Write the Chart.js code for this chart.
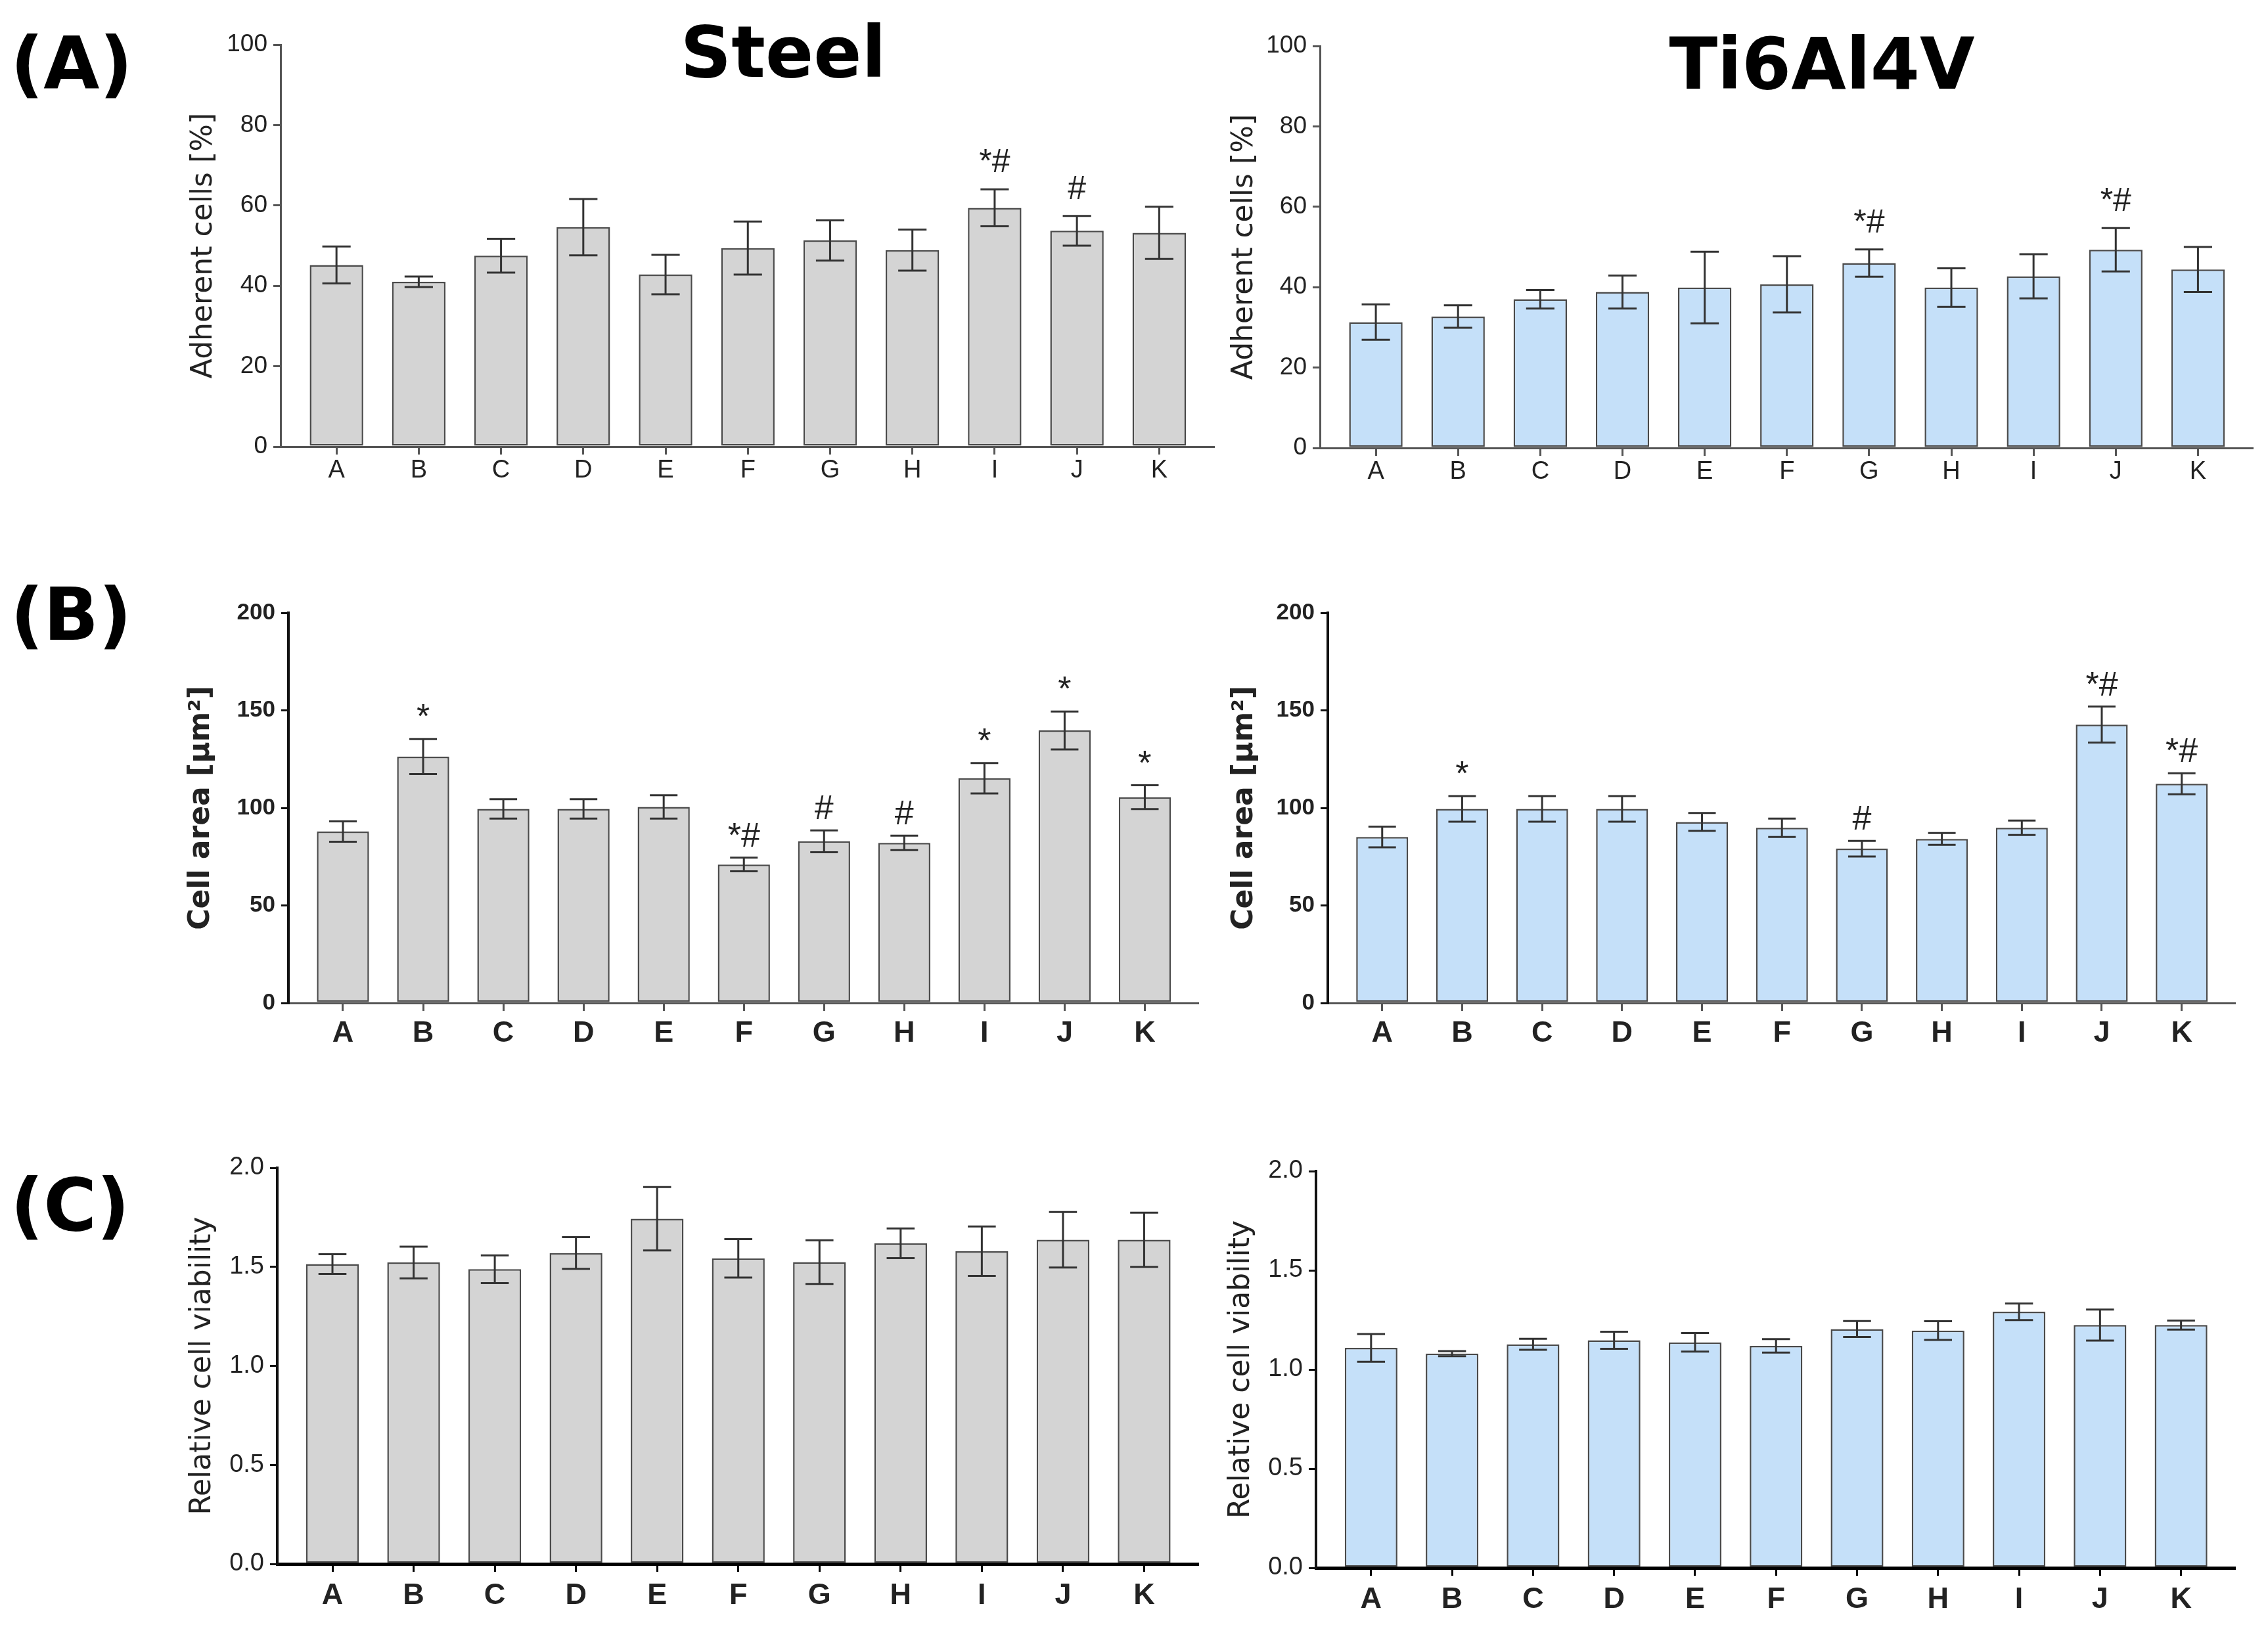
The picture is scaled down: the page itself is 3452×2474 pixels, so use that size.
<!DOCTYPE html>
<html>
<head>
<meta charset="utf-8">
<script src="https://cdn.jsdelivr.net/npm/chart.js@4.4.1/dist/chart.umd.min.js"></script>
<style>
  body { margin: 0; background: #fff; width: 3452px; height: 2474px; position: relative; overflow: hidden; }
  canvas { position: absolute; }
  .lbl { position: absolute; font-family: 'DejaVu Sans', sans-serif; font-weight: bold; color: #000; line-height: 1; white-space: nowrap; }
  .ttl { width: 1000px; text-align: center; font-size: 108px; }
</style>
</head>
<body>
<div class="lbl" style="left:16px;top:42px;font-size:110px">(A)</div>
<div class="lbl" style="left:16px;top:881px;font-size:110px">(B)</div>
<div class="lbl" style="left:16px;top:1780px;font-size:110px">(C)</div>
<div class="lbl ttl" style="left:692px;top:26px">Steel</div>
<div class="lbl ttl" style="left:2273px;top:44px">Ti6Al4V</div>

<script>
// groups on the x axis
const groups = ['A', 'B', 'C', 'D', 'E', 'F', 'G', 'H', 'I', 'J', 'K'];

// (A) adherent cells [%]
const adhSteel    = [45.2, 41.0, 47.5, 54.6, 42.8, 49.4, 51.3, 48.9, 59.4, 53.7, 53.2];
const adhSteelErr = [4.6, 1.3, 4.2, 7.0, 4.9, 6.6, 5.0, 5.1, 4.6, 3.7, 6.5];
const adhSteelSig = ['', '', '', '', '', '', '', '', '*#', '#', ''];
const adhTi       = [31.3, 32.7, 37.0, 38.8, 39.9, 40.7, 46.0, 39.9, 42.7, 49.3, 44.4];
const adhTiErr    = [4.4, 2.8, 2.3, 4.1, 8.9, 7.0, 3.4, 4.8, 5.5, 5.4, 5.6];
const adhTiSig    = ['', '', '', '', '', '', '*#', '', '', '*#', ''];

// (B) cell area [µm²]
const areaSteel    = [87.9, 126.3, 99.5, 99.5, 100.5, 71.0, 82.9, 82.1, 115.2, 139.7, 105.5];
const areaSteelErr = [5.2, 9.0, 5.0, 5.0, 6.0, 3.5, 5.6, 3.7, 7.8, 9.7, 6.1];
const areaSteelSig = ['', '*', '', '', '', '*#', '#', '#', '*', '*', '*'];
const areaTi       = [85.1, 99.5, 99.5, 99.5, 92.8, 89.8, 79.1, 84.1, 89.8, 142.7, 112.4];
const areaTiErr    = [5.3, 6.6, 6.6, 6.6, 4.6, 4.7, 4.0, 3.0, 3.7, 9.2, 5.4];
const areaTiSig    = ['', '*', '', '', '', '', '#', '', '', '*#', '*#'];

// (C) relative cell viability
const viaSteel    = [1.514, 1.522, 1.488, 1.570, 1.743, 1.543, 1.524, 1.619, 1.579, 1.637, 1.637];
const viaSteelErr = [0.05, 0.08, 0.07, 0.08, 0.16, 0.097, 0.11, 0.075, 0.125, 0.14, 0.137];
const viaTi       = [1.109, 1.080, 1.127, 1.147, 1.137, 1.119, 1.204, 1.196, 1.291, 1.224, 1.224];
const viaTiErr    = [0.07, 0.013, 0.028, 0.043, 0.047, 0.034, 0.04, 0.047, 0.042, 0.078, 0.023];
const noSig       = ['', '', '', '', '', '', '', '', '', '', ''];

const STEEL = '#d4d4d4';
const TI = '#c5e0f9';
const GAP_L = 0.18, GAP_R = 0.16;   // empty space at both ends of the x axis (in bars)
const Y_BOX = 330, X_BOX = 130, PAD_TOP = 50, PAD_RIGHT = 20;
const tickFont = "'Liberation Sans', Arial, sans-serif";

// error bars + significance marks
const errorBars = {
  id: 'errorBars',
  afterDatasetsDraw(chart, args, opts) {
    const ctx = chart.ctx;
    const y = chart.scales.y;
    const meta = chart.getDatasetMeta(0);
    const vals = chart.data.datasets[0].data;
    ctx.save();
    ctx.strokeStyle = '#333';
    ctx.lineWidth = 3;
    ctx.fillStyle = '#222';
    ctx.font = opts.markSize + "px " + tickFont;
    ctx.textAlign = 'center';
    ctx.textBaseline = 'alphabetic';
    meta.data.forEach((bar, i) => {
      const v = vals[i], e = opts.errors[i];
      const top = y.getPixelForValue(v + e);
      const bot = y.getPixelForValue(v - e);
      const half = bar.width * 0.53 / 2;
      ctx.beginPath();
      ctx.moveTo(bar.x, top); ctx.lineTo(bar.x, bot);
      ctx.moveTo(bar.x - half, top); ctx.lineTo(bar.x + half, top);
      ctx.moveTo(bar.x - half, bot); ctx.lineTo(bar.x + half, bot);
      ctx.stroke();
      if (opts.marks[i]) ctx.fillText(opts.marks[i], bar.x, top - opts.markGap);
    });
    ctx.restore();
  }
};

const panels = [
  { id: 'aS', values: adhSteel, errors: adhSteelErr, marks: adhSteelSig, color: STEEL,
    axisX: 427, right: 1847, top: 68, bottom: 680, max: 100, step: 20, dec: 0,
    title: 'Adherent cells [%]', titleBold: false, titleOff: 116, style: 'A' },
  { id: 'aT', values: adhTi, errors: adhTiErr, marks: adhTiSig, color: TI,
    axisX: 2009, right: 3428, top: 70, bottom: 682, max: 100, step: 20, dec: 0,
    title: 'Adherent cells [%]', titleBold: false, titleOff: 114, style: 'A' },
  { id: 'bS', values: areaSteel, errors: areaSteelErr, marks: areaSteelSig, color: STEEL,
    axisX: 439, right: 1823, top: 933, bottom: 1527, max: 200, step: 50, dec: 0,
    title: 'Cell area [µm²]', titleBold: true, titleOff: 132, style: 'B' },
  { id: 'bT', values: areaTi, errors: areaTiErr, marks: areaTiSig, color: TI,
    axisX: 2021, right: 3401, top: 933, bottom: 1527, max: 200, step: 50, dec: 0,
    title: 'Cell area [µm²]', titleBold: true, titleOff: 126, style: 'B' },
  { id: 'cS', values: viaSteel, errors: viaSteelErr, marks: noSig, color: STEEL,
    axisX: 422, right: 1823, top: 1778, bottom: 2381, max: 2, step: 0.5, dec: 1,
    title: 'Relative cell viability', titleBold: false, titleOff: 113, style: 'C' },
  { id: 'cT', values: viaTi, errors: viaTiErr, marks: noSig, color: TI,
    axisX: 2003, right: 3401, top: 1783, bottom: 2387, max: 2, step: 0.5, dec: 1,
    title: 'Relative cell viability', titleBold: false, titleOff: 113, style: 'C' }
];

// per-row look of axes and labels
const looks = {
  A: { yTick: { size: 37, weight: 'normal' }, xTick: { size: 38, weight: 'normal' }, xPad: 2,
       yAxis: ['#555', 3], xAxis: ['#555', 3], markSize: 50, markGap: 26 },
  B: { yTick: { size: 35, weight: 'bold' }, xTick: { size: 45, weight: 'bold' }, xPad: 8,
       yAxis: ['#111', 4], xAxis: ['#555', 3], markSize: 52, markGap: 17 },
  C: { yTick: { size: 38, weight: 'normal' }, xTick: { size: 45, weight: 'bold' }, xPad: 10,
       yAxis: ['#111', 4], xAxis: ['#000', 5], markSize: 50, markGap: 20 }
};

panels.forEach(p => {
  const look = looks[p.style];
  const cv = document.createElement('canvas');
  const left = p.axisX - Y_BOX;
  const top = p.top - PAD_TOP;
  cv.width = p.right + PAD_RIGHT - left;
  cv.height = p.bottom + X_BOX - top;
  cv.style.left = left + 'px';
  cv.style.top = top + 'px';
  document.body.appendChild(cv);

  const titleSize = 44;
  new Chart(cv.getContext('2d'), {
    type: 'bar',
    data: {
      labels: groups,
      datasets: [{
        data: p.values,
        backgroundColor: p.color,
        borderColor: '#4a4a4a',
        borderWidth: 2.5,
        borderSkipped: false,
        categoryPercentage: 1,
        barPercentage: 0.65
      }]
    },
    options: {
      responsive: false,
      animation: false,
      devicePixelRatio: 1,
      layout: { padding: { top: PAD_TOP, right: PAD_RIGHT, left: 0, bottom: 0 } },
      plugins: {
        legend: { display: false },
        tooltip: { enabled: false },
        errorBars: { errors: p.errors, marks: p.marks, markSize: look.markSize, markGap: look.markGap }
      },
      scales: {
        x: {
          offset: true,
          grid: { display: true, drawOnChartArea: false, drawTicks: true, offset: false,
                  tickLength: 12, color: look.xAxis[0], lineWidth: 3 },
          border: { display: true, color: look.xAxis[0], width: look.xAxis[1] },
          ticks: { color: '#222', padding: look.xPad, maxRotation: 0, autoSkip: false,
                   font: { family: tickFont, size: look.xTick.size, weight: look.xTick.weight } },
          afterBuildTicks: s => { s._startValue -= GAP_L; s._valueRange += GAP_L + GAP_R; },
          afterFit: s => { s.height = X_BOX; }
        },
        y: {
          min: 0,
          max: p.max,
          grid: { display: true, drawOnChartArea: false, drawTicks: true,
                  tickLength: 11, color: look.yAxis[0], lineWidth: 3 },
          border: { display: true, color: look.yAxis[0], width: look.yAxis[1] },
          ticks: { stepSize: p.step, color: '#222', padding: 9,
                   font: { family: tickFont, size: look.yTick.size, weight: look.yTick.weight },
                   callback: v => v.toFixed(p.dec) },
          title: {
            display: true,
            text: p.title,
            color: '#222',
            font: { family: "'DejaVu Sans', sans-serif", size: titleSize, weight: p.titleBold ? 'bold' : 'normal' },
            padding: { top: Y_BOX - p.titleOff - titleSize * 0.6, bottom: 0 }
          },
          afterFit: s => { s.width = Y_BOX; }
        }
      }
    },
    plugins: [errorBars]
  });
});
</script>
</body>
</html>
